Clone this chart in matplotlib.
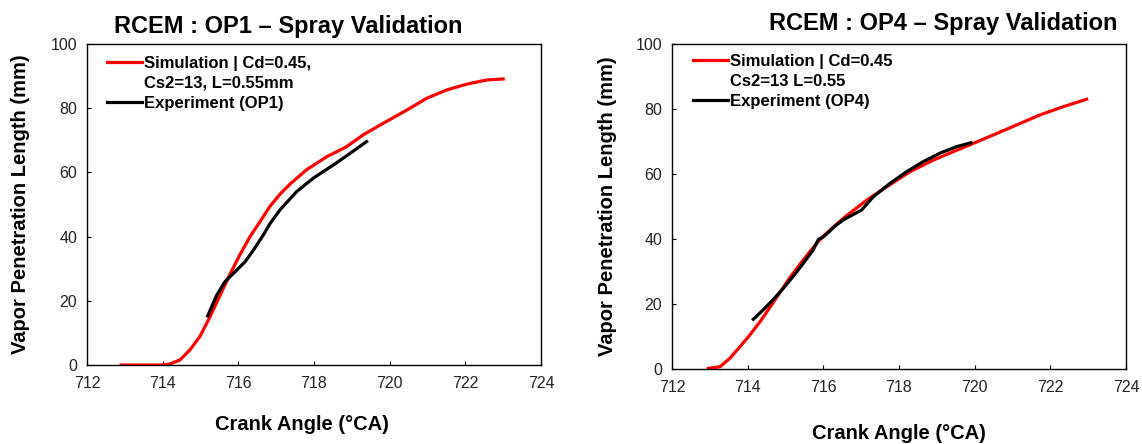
import matplotlib.pyplot as plt
from matplotlib.lines import Line2D
import numpy as np

plt.rcParams['font.family'] = ['Liberation Sans', 'DejaVu Sans']

# OP1 data
sim1_x = [712.9, 713.5, 714.0, 714.19, 714.46, 714.72, 714.99, 715.25, 715.52, 715.78,
          716.04, 716.31, 716.57, 716.84, 717.1, 717.37, 717.8, 718.34, 718.86, 719.3,
          719.83, 720.45, 720.98, 721.51, 722.04, 722.57, 723.0]
sim1_y = [0, 0, 0, 0.3, 1.6, 4.7, 9.0, 15.0, 21.8, 28.3,
          34.3, 40.0, 44.6, 49.5, 53.2, 56.4, 60.8, 64.9, 68.0, 71.7,
          75.3, 79.4, 83.1, 85.7, 87.5, 88.8, 89.1]
exp1_x = [715.19, 715.43, 715.65, 715.91, 716.18, 716.4, 716.66, 716.84, 717.1, 717.54,
          717.98, 718.51, 718.95, 719.39]
exp1_y = [15.3, 21.8, 26.0, 29.0, 32.2, 35.8, 40.5, 44.1, 48.3, 54.0,
          58.2, 62.3, 65.9, 69.6]

# OP4 data
sim4_x = [712.96, 713.27, 713.53, 713.8, 714.06, 714.33, 714.59, 714.85, 715.12, 715.38,
          715.65, 715.87, 716.0, 716.3, 716.53, 717.15, 717.68, 718.29, 718.91, 719.44,
          719.92, 720.49, 721.11, 721.73, 722.34, 722.96]
sim4_y = [0.2, 0.7, 3.3, 6.9, 10.5, 14.6, 19.0, 23.5, 28.2, 32.2,
          36.2, 39.3, 40.9, 44.0, 46.4, 52.0, 56.1, 60.7, 64.3, 66.9,
          69.2, 72.0, 75.1, 78.2, 80.7, 83.0]
exp4_x = [714.15, 714.41, 714.68, 714.94, 715.21, 715.47, 715.74, 715.87, 716.0, 716.3,
          716.53, 717.01, 717.32, 717.76, 718.2, 718.64, 719.08, 719.52, 719.9]
exp4_y = [15.3, 18.2, 21.4, 24.8, 28.6, 32.5, 36.8, 39.9, 40.6, 43.9,
          45.9, 48.9, 53.0, 57.1, 60.7, 63.8, 66.4, 68.4, 69.6]

W, H = 1142, 444
fig = plt.figure(figsize=(W / 100, H / 100), dpi=100)
ax1 = fig.add_axes([87 / W, 1 - 365 / H, 454 / W, 321 / H])
ax2 = fig.add_axes([672 / W, 1 - 369 / H, 454 / W, 325 / H])

panels = [
    (ax1, sim1_x, sim1_y, exp1_x, exp1_y, ['Simulation | Cd=0.45,', 'Cs2=13, L=0.55mm'],
     'Experiment (OP1)', (0.044, 0.963)),
    (ax2, sim4_x, sim4_y, exp4_x, exp4_y, ['Simulation | Cd=0.45', 'Cs2=13 L=0.55'],
     'Experiment (OP4)', (0.046, 0.97)),
]

for ax, sx, sy, ex, ey, slab, elab, anchor in panels:
    red, = ax.plot(sx, sy, color='#ff0000', linewidth=2.3, solid_joinstyle='round')
    blk, = ax.plot(ex, ey, color='black', linewidth=2.3, solid_joinstyle='round')
    blank = Line2D([], [], color='none')
    ax.set_xlim(712, 724)
    ax.set_ylim(0, 100)
    ax.set_xticks(np.arange(712, 725, 2))
    ax.set_yticks(np.arange(0, 101, 20))
    ax.tick_params(direction='in', labelsize=11.5, length=3, labelcolor='#222222')
    ax.tick_params(axis='x', pad=8)
    ax.tick_params(axis='y', pad=7)
    for s in ax.spines.values():
        s.set_linewidth(1.0)
    ax.set_ylabel('Vapor Penetration Length (mm)', fontsize=14.5, fontweight='bold')
    ax.set_xlabel('Crank Angle (\u00b0CA)', fontsize=14.5, fontweight='bold')
    ax.legend([red, blank, blk], [slab[0], slab[1], elab],
              loc='upper left', bbox_to_anchor=anchor, frameon=False,
              handlelength=2.1, handletextpad=0.1, borderaxespad=0, borderpad=0,
              labelspacing=0.3, prop={'weight': 'bold', 'size': 12})

ax1.set_title('RCEM : OP1 \u2013 Spray Validation', fontsize=17, fontweight='bold', pad=8, x=0.443)
ax2.set_title('RCEM : OP4 \u2013 Spray Validation', fontsize=17, fontweight='bold', pad=10, x=0.597)
ax1.xaxis.set_label_coords(0.474, -0.156)
ax2.xaxis.set_label_coords(0.5, -0.169)
ax1.yaxis.set_label_coords(-0.125, 0.5)
ax2.yaxis.set_label_coords(-0.121, 0.5)

fig.savefig('out.png', dpi=100)
